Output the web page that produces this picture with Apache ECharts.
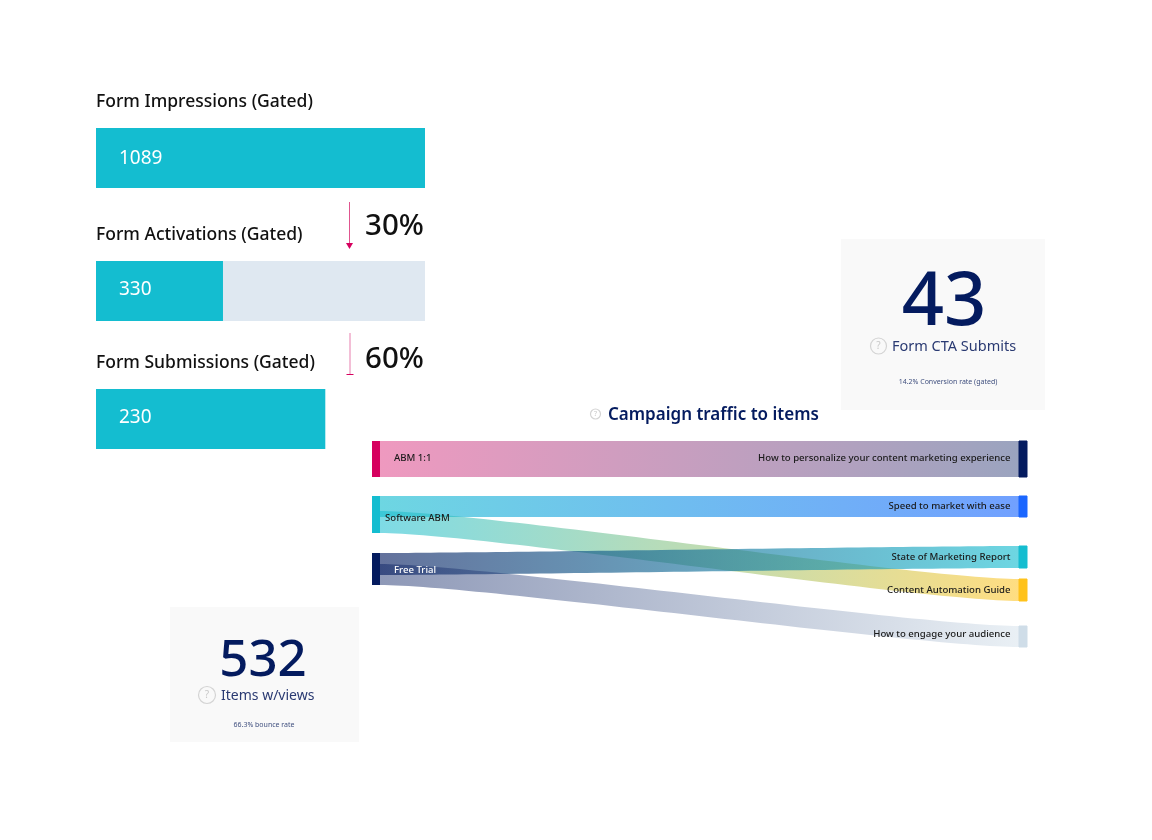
<!DOCTYPE html>
<html>
<head>
<meta charset="utf-8">
<title>Campaign traffic</title>
<script src="https://cdn.jsdelivr.net/npm/echarts@6/dist/echarts.min.js"></script>
<style>
html,body{margin:0;padding:0;background:#fff;}
#chart{width:1152px;height:840px;}
</style>
</head>
<body>
<div id="chart"></div>
<script>
// funnel bars
var funnelLabels = ['Form Impressions (Gated)', 'Form Activations (Gated)', 'Form Submissions (Gated)'];
var funnelValues = [1089, 330, 230];
var funnelScale = [1089, 855, 330];
var funnelRates = ['30%', '60%'];

// campaign flows, one entry per ribbon
var flowSources = ['ABM 1:1', 'Software ABM', 'Software ABM', 'Free Trial', 'Free Trial'];
var flowTargets = ['How to personalize your content marketing experience', 'Speed to market with ease', 'Content Automation Guide', 'State of Marketing Report', 'How to engage your audience'];
var flowValues = [36, 21, 22, 22, 21];

var kpiValues = ['43', '532'];
var kpiNames = ['Form CTA Submits', 'Items w/views'];
var kpiNotes = ['14.2% Conversion rate (gated)', '66.3% bounce rate'];

var NAVY = '#041b5f', TEAL = '#14bdd0', PINK = '#d6005f', FONT = '"Noto Sans", sans-serif';

// layout of the bars and ribbons
var barTops = [128, 261, 389];
var barLabelShift = [1, -1, -1];
var titleY = [102, 235, 363];
var sankeyTop = 441, sankeyHeight = 207;
var sankeyGap = (sankeyHeight - 122) / 4;
var sourceTops = [441, 496, 511, 553, 564];
var targetTops = [441, 496, 579, 546, 626];
var sourceColors = [PINK, TEAL, TEAL, NAVY, NAVY];
var targetColors = [NAVY, '#1a66ff', '#ffc21a', TEAL, '#cfdde8'];
var flowOpacity = [0.4, 0.62, 0.55, 0.62, 0.45];
var sourceLabel = [
    {distance: 14, offset: [0, -1], color: '#1a1a1a'},
    null,
    {distance: 5, offset: [0, -4], color: '#1a1a1a'},
    null,
    {distance: 14, offset: [0, -4], color: '#ffffff'}
];
var targetOffset = [-1, 0, 0, 0, -2];

function text(x, y, str, size, color, weight, align) {
    return {
        type: 'text', silent: true, z: 5,
        style: {x: x, y: y, text: str, fill: color, align: align || 'left', verticalAlign: 'middle',
            font: (weight || 400) + ' ' + size + 'px ' + FONT}
    };
}
function help(x, y, r, size) {
    return [
        {type: 'circle', silent: true, z: 5, shape: {cx: x, cy: y, r: r}, style: {fill: 'none', stroke: '#d4d4d4', lineWidth: 1.2}},
        text(x, y, '?', size, '#c8c8c8', 400, 'center')
    ];
}

var grids = [], xAxes = [], yAxes = [], series = [];
funnelValues.forEach(function (v, i) {
    grids.push({left: 96, top: barTops[i], width: 329, height: 60});
    xAxes.push({type: 'value', gridIndex: i, min: 0, max: funnelScale[i], show: false});
    yAxes.push({type: 'category', gridIndex: i, data: [funnelLabels[i]], show: false});
    series.push({
        type: 'bar', xAxisIndex: i, yAxisIndex: i, data: [v], barWidth: 60, silent: true,
        // only the middle bar sits on a track
        showBackground: i === 1,
        backgroundStyle: {color: '#dfe8f1'},
        itemStyle: {color: TEAL},
        label: {show: true, position: 'insideLeft', distance: 23, offset: [0, barLabelShift[i]], color: '#fff', fontSize: 19, fontFamily: FONT}
    });
});

var nodes = [], links = [];
flowValues.forEach(function (v, i) {
    var srcName = flowSources[i] + ' #' + i;
    var lab = sourceLabel[i];
    nodes.push({
        name: srcName,
        localY: (sourceTops[i] - sankeyTop) / sankeyHeight,
        itemStyle: {color: sourceColors[i], borderColor: sourceColors[i], borderWidth: 0},
        label: lab ? {show: true, position: 'right', distance: lab.distance, offset: lab.offset, color: lab.color,
            formatter: flowSources[i], fontSize: 9.6, fontWeight: 500, fontFamily: FONT} : {show: false}
    });
    nodes.push({
        name: flowTargets[i],
        localY: (targetTops[i] - sankeyTop) / sankeyHeight,
        itemStyle: {color: targetColors[i], borderColor: targetColors[i], borderWidth: 1},
        label: {show: true, position: 'left', distance: 8, offset: [0, targetOffset[i]], color: '#1a1a1a',
            fontSize: 9.6, fontWeight: 500, fontFamily: FONT}
    });
    links.push({source: srcName, target: flowTargets[i], value: v, lineStyle: {opacity: flowOpacity[i]}});
});
series.push({
    type: 'sankey', left: 372, top: sankeyTop, width: 655, height: sankeyHeight,
    nodeWidth: 8, nodeGap: sankeyGap, layoutIterations: 0, draggable: false, silent: true,
    emphasis: {disabled: true},
    lineStyle: {color: 'gradient', curveness: 0.15},
    data: nodes, links: links
});

var graphics = [
    {type: 'rect', silent: true, z: 0, shape: {x: 841, y: 239, width: 204, height: 171}, style: {fill: '#f9f9f9'}},
    {type: 'rect', silent: true, z: 0, shape: {x: 170, y: 607, width: 189, height: 135}, style: {fill: '#f9f9f9'}},
    text(96, titleY[0], funnelLabels[0], 17.5, '#111', 500),
    text(96, titleY[1], funnelLabels[1], 17.5, '#111', 500),
    text(96, titleY[2], funnelLabels[2], 17.5, '#111', 500),
    text(424, 227, funnelRates[0], 29.5, '#111', 500, 'right'),
    text(424, 360, funnelRates[1], 29.5, '#111', 500, 'right'),
    // drop-off arrows
    {type: 'line', silent: true, z: 5, shape: {x1: 349.5, y1: 202, x2: 349.5, y2: 244}, style: {stroke: '#e0558f', lineWidth: 1}},
    {type: 'polygon', silent: true, z: 5, shape: {points: [[346, 243], [353, 243], [349.5, 249]]}, style: {fill: PINK}},
    {type: 'line', silent: true, z: 5, shape: {x1: 350, y1: 333, x2: 350, y2: 375}, style: {stroke: '#e77fae', lineWidth: 1}},
    {type: 'line', silent: true, z: 5, shape: {x1: 346.5, y1: 374.5, x2: 353.5, y2: 374.5}, style: {stroke: PINK, lineWidth: 1}},
    // KPI cards
    text(944, 304, kpiValues[0], 74, NAVY, 500, 'center'),
    text(892, 346.5, kpiNames[0], 14.5, '#2a3a72', 400),
    text(948, 381.5, kpiNotes[0], 7, '#40507f', 400, 'center'),
    text(263, 661, kpiValues[1], 51, NAVY, 500, 'center'),
    text(221, 696, kpiNames[1], 14, '#2a3a72', 400),
    text(264, 724.5, kpiNotes[1], 7, '#40507f', 400, 'center'),
    text(608, 415, 'Campaign traffic to items', 17, NAVY, 600)
].concat(help(878.5, 346, 8, 10), help(207, 695, 8.5, 10), help(595.5, 414, 5, 7));

var chart = echarts.init(document.getElementById('chart'));
chart.setOption({
    animation: false,
    backgroundColor: '#fff',
    grid: grids,
    xAxis: xAxes,
    yAxis: yAxes,
    series: series,
    graphic: graphics
});
</script>
</body>
</html>
